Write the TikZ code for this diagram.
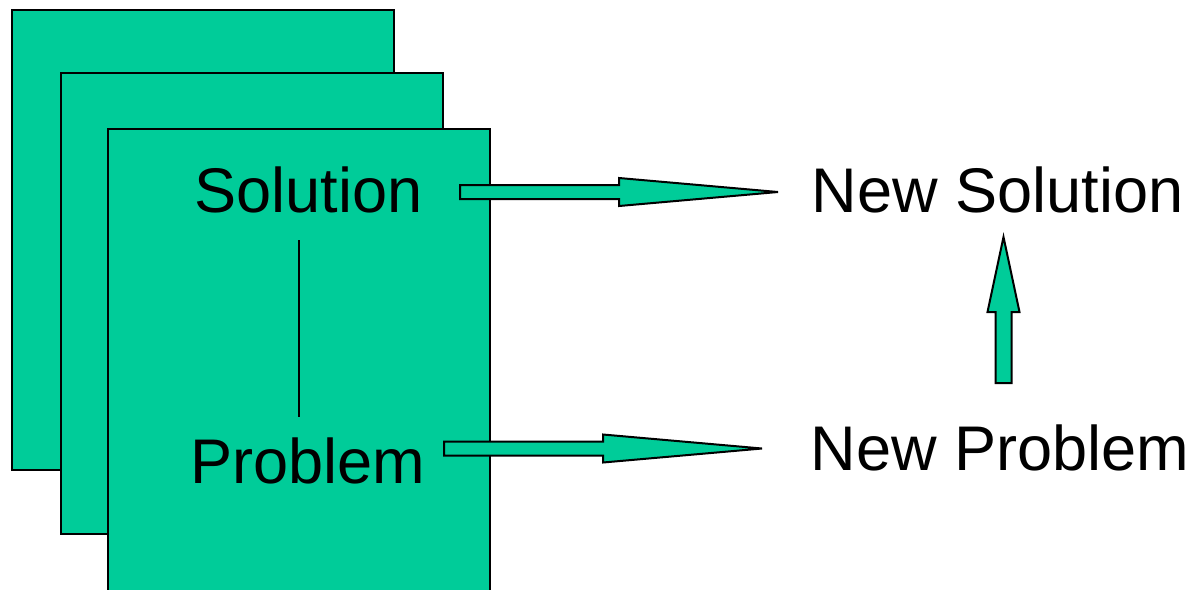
\documentclass[tikz,border=0pt]{standalone}
\usepackage{fontspec}
\setmainfont{Liberation Sans}
\usepackage{tikz}
\usetikzlibrary{arrows.meta,calc,positioning}

\definecolor{cardgreen}{HTML}{00CC99}

\tikzset{
  card/.style={draw=black,line width=0.4mm,fill=cardgreen},
  word/.style={inner sep=0pt,anchor=base,font=\fontsize{35.9}{40}\selectfont},
  fatarrow/.style={draw=black,line width=0.4mm,fill=cardgreen,line join=miter},
  link/.style={draw=black,line width=0.55mm},
  hfat/.pic={\draw[fatarrow] (0,-7) -- (159,-7) -- (159,-14) -- (318,0) -- (159,14)
      -- (159,7) -- (0,7) -- cycle;}
}

\begin{document}
\begin{tikzpicture}[x=0.2mm,y=-0.2mm]
  \clip (0,0) rectangle (1198,589);
  \fill[white] (0,0) rectangle (1198,589);
  % stack of cases
  \foreach \x/\y/\h in {12/10/460,61/73/461,108/129/480}{\draw[card] (\x,\y) rectangle ++(382,\h);}
  \node[word] (sol) at (308.5,212) {Solution};
  \node[word] (prob) at (307.5,483) {Problem};
  \node[word] (nsol) at (997.5,212) {New Solution};
  \node[word] (nprob) at (1000,470) {New Problem};
  \coordinate (lt) at (299,240);
  \coordinate (lb) at (299,417);
  \draw[link] (lt) -- (lb);
  % reuse and revise arrows
  \coordinate (sa) at (460,192);
  \coordinate (pa) at (444,448.5);
  \coordinate (ua) at (1003.5,383);
  \pic at (sa) {hfat};
  \pic at (pa) {hfat};
  \draw[fatarrow,shift={(ua)}] (-8,0) -- (-8,-71) -- (-16,-71) -- (0,-146) -- (16,-71)
      -- (8,-71) -- (8,0) -- cycle;
\end{tikzpicture}
\end{document}
